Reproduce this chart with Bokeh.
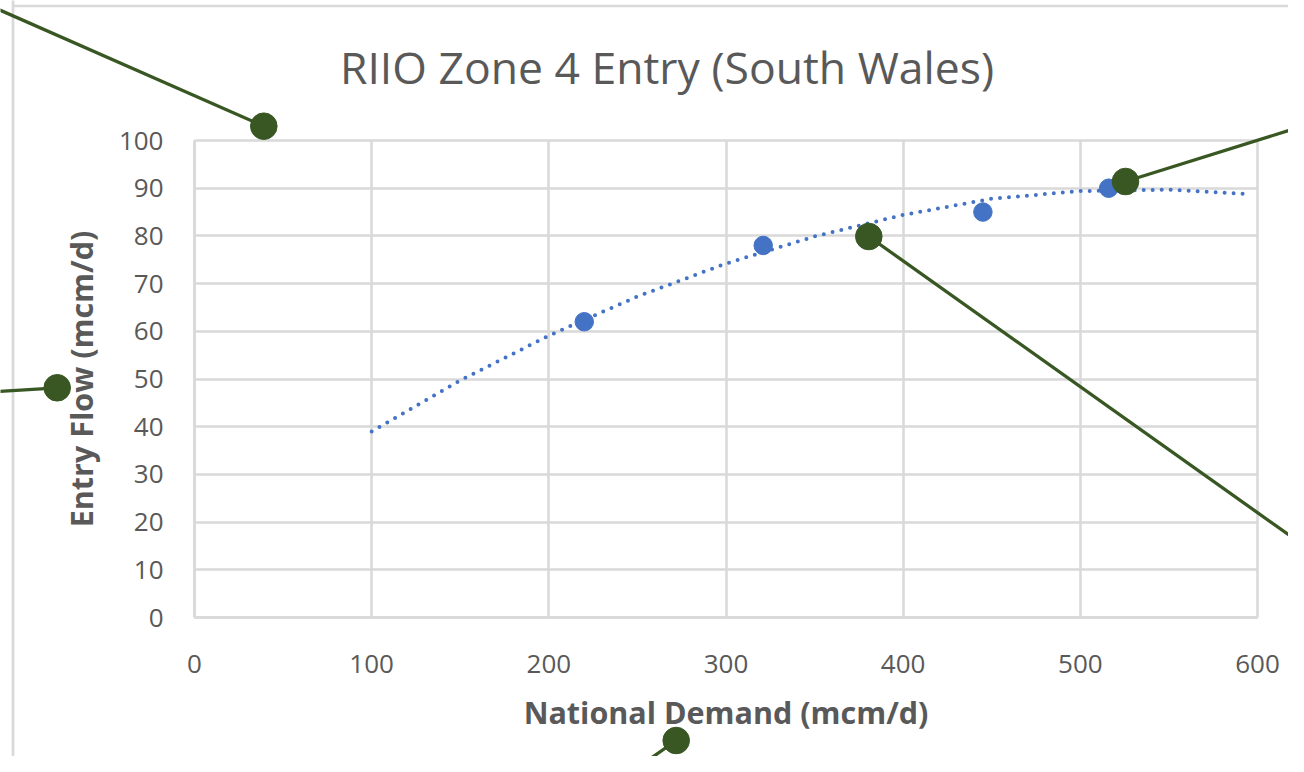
from bokeh.plotting import figure
from bokeh.models import FixedTicker, Range1d, Label
from bokeh.embed import file_html
from bokeh.resources import INLINE

# ---- data ----
demand = [220, 321, 445, 516]
entry_flow = [62, 78, 85, 90]
trend_demand = [100, 150, 200, 250, 300, 350, 400, 450, 500, 550, 593]
trend_flow = [39.0, 49.7, 59.1, 67.3, 74.2, 79.9, 84.4, 87.8, 89.4, 89.7, 88.8]
x_ticks = [0, 100, 200, 300, 400, 500, 600]
y_ticks = [0, 10, 20, 30, 40, 50, 60, 70, 80, 90, 100]

TITLE = "RIIO Zone 4 Entry (South Wales)"
X_LABEL = "National Demand (mcm/d)"
Y_LABEL = "Entry Flow (mcm/d)"

# ---- layout (pixels) ----
W, H = 1288, 756
PL, PR, PT, PB = 194, 1257, 140, 617      # plot-area edges on the canvas
X0, X1, Y0, Y1 = 0, 600, 0, 100
KX = (PR - PL) / (X1 - X0)
KY = (PB - PT) / (Y1 - Y0)
TEXT = "#595959"
GRID = "#d9d9d9"
BLUE = "#4472C4"
GREEN = "#385723"
FONT = "Open Sans"

def dx(px):
    return X0 + (px - PL) / KX

def dy(py):
    return Y0 + (PB - py) / KY

p = figure(width=W, height=H,
           x_range=Range1d(dx(0), dx(W)), y_range=Range1d(dy(H), dy(0)),
           output_backend="svg", toolbar_location=None,
           min_border_left=0, min_border_right=0, min_border_top=0, min_border_bottom=0)
p.background_fill_color = "white"
p.border_fill_color = "white"
p.outline_line_color = None

for ax, ticks, loc, bounds in ((p.xaxis, x_ticks, Y0, (X0, X1)), (p.yaxis, y_ticks, X0, (Y0, Y1))):
    ax.ticker = FixedTicker(ticks=ticks)
    ax.fixed_location = loc
    ax.bounds = bounds
    ax.major_tick_line_color = None
    ax.minor_tick_line_color = None
    ax.major_tick_out = 0
    ax.major_tick_in = 0
    ax.axis_line_color = GRID
    ax.axis_line_width = 2.5
    ax.major_label_text_font = FONT
    ax.major_label_text_font_size = "26px"
    ax.major_label_text_color = TEXT
    ax.axis_label_text_font = FONT
    ax.axis_label_text_font_size = "30.5px"
    ax.axis_label_text_font_style = "bold"
    ax.axis_label_text_color = TEXT

p.xaxis.axis_label = X_LABEL
p.yaxis.axis_label = Y_LABEL
p.xaxis.major_label_standoff = 37
p.yaxis.major_label_standoff = 31
p.xaxis.axis_label_standoff = 15
p.yaxis.axis_label_standoff = 14

p.xgrid.ticker = FixedTicker(ticks=x_ticks)
p.ygrid.ticker = FixedTicker(ticks=y_ticks)
p.xgrid.bounds = (X0, X1)
p.ygrid.bounds = (Y0, Y1)
for g, cb in ((p.xgrid, (Y0, Y1)), (p.ygrid, (X0, X1))):
    g.grid_line_color = GRID
    g.grid_line_width = 2.5
    if "cross_bounds" in g.properties():
        g.cross_bounds = cb

# title
p.add_layout(Label(x=dx(666.5), y=dy(66), text=TITLE, text_align="center",
                   text_baseline="middle", text_font=FONT, text_font_size="44.5px",
                   text_color=TEXT))

# trendline (dotted) and points
p.line(trend_demand, trend_flow, line_color=BLUE, line_width=4,
       line_dash="0 9", line_cap="round")
p.scatter(demand, entry_flow, size=18.5, fill_color=BLUE, line_color=BLUE)

# ---- decorations: outer chart border and callouts, in canvas pixels ----
border_x0 = [12.5, 12.5]
border_y0 = [-20, 5.5]
border_x1 = [12.5, 1400]
border_y1 = [800, 5.5]
p.segment(x0=[dx(v) for v in border_x0], y0=[dy(v) for v in border_y0],
          x1=[dx(v) for v in border_x1], y1=[dy(v) for v in border_y1],
          line_color=GRID, line_width=2.7)

call_start_x = [-20, -20, 1330, 1330, 610]
call_start_y = [1.0, 392.0, 117.0, 564.0, 786.0]
call_dot_x = [263.3, 56.7, 1125.0, 868.3, 675.7]
call_dot_y = [125.7, 387.3, 181.0, 236.0, 740.0]
p.segment(x0=[dx(v) for v in call_start_x], y0=[dy(v) for v in call_start_y],
          x1=[dx(v) for v in call_dot_x], y1=[dy(v) for v in call_dot_y],
          line_color=GREEN, line_width=3.3)
p.scatter([dx(v) for v in call_dot_x], [dy(v) for v in call_dot_y], size=26.6,
          fill_color=GREEN, line_color=GREEN)

open("out.html", "w").write(file_html(p, INLINE))
